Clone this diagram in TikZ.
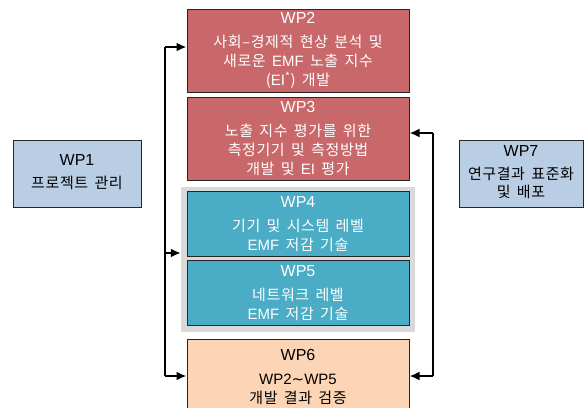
\documentclass[tikz,border=0pt]{standalone}
\usepackage{fontspec}
\setmainfont{Noto Sans CJK KR}[LetterSpace=4, WordSpace=1.6]
\newfontfamily\lat{Liberation Sans}
\newfontfamily\symfont{DejaVu Sans}
\newcommand{\wptitle}[1]{{\lat\fontsize{16}{18.8}\selectfont #1}}
\usetikzlibrary{arrows.meta}
\definecolor{wpred}{HTML}{C9686A}
\definecolor{wpteal}{HTML}{4BACC6}
\definecolor{wpblue}{HTML}{B9CDE5}
\definecolor{wppeach}{HTML}{FBD5B5}
\definecolor{wpgray}{HTML}{D9D9D9}
\tikzset{
  wpbox/.style={draw=black!85, line width=1pt, inner sep=0pt, align=center,
    font=\fontsize{15}{18.8}\selectfont},
  redbox/.style={wpbox, fill=wpred, text=white, minimum width=222pt, minimum height=83pt},
  tealbox/.style={wpbox, fill=wpteal, text=white, minimum width=222pt, minimum height=65pt},
  sidebox/.style={wpbox, fill=wpblue, text=black, minimum height=67pt},
  conn/.style={line width=2.4pt, black},
  arr/.style={conn, -{Latex[length=10pt,width=9pt]}},
}
\begin{document}
\begin{tikzpicture}[x=1pt,y=-1pt]
\useasboundingbox (0,0) rectangle (585,407);
\fill[white] (0,0) rectangle (585,407);
% gray group
\node[fill=wpgray, minimum width=234pt, minimum height=145pt, inner sep=0pt] (grp) at (298,259) {};
\node[redbox] (wp2) at (298,50.5) {\wptitle{WP2}\\[5pt]사회–경제적 현상 분석 및\\새로운 {\lat EMF} 노출 지수\\({\lat EI}\textsuperscript{*}) 개발};
\node[redbox] (wp3) at (298,138.5) {\wptitle{WP3}\\[5pt]노출 지수 평가를 위한\\측정기기 및 측정방법\\개발 및 {\lat EI} 평가};
\node[tealbox] (wp4) at (298,224.2) {\wptitle{WP4}\\[5pt]기기 및 시스템 레벨\\{\lat EMF} 저감 기술};
\node[tealbox] (wp5) at (298,293.2) {\wptitle{WP5}\\[5pt]네트워크 레벨\\{\lat EMF} 저감 기술};
\node[wpbox, fill=wppeach, text=black, minimum width=222pt, minimum height=76pt] (wp6) at (298,377) {\wptitle{WP6}\\[5pt]{\lat WP2}{\symfont ∼}{\lat WP5}\\개발 결과 검증};
\node[sidebox, minimum width=128pt] (wp1) at (77,173.5) {\raisebox{-1.5pt}{\begin{tabular}{@{}c@{}}\wptitle{WP1}\\[4pt]프로젝트 관리\end{tabular}}};
\node[sidebox, minimum width=124pt] (wp7) at (521,173.5) {\raisebox{-2pt}{\begin{tabular}{@{}c@{}}\wptitle{WP7}\\[4pt]연구결과 표준화\\[-0.5pt]및 배포\end{tabular}}};
% left connectors
\coordinate (ltop) at (165,47);
\coordinate (lmid) at (165,253);
\coordinate (lbot) at (165,376);
\draw[conn] (ltop) -- (lbot);
\draw[arr] (ltop) -- (ltop -| wp2.west);
\draw[arr] (lmid) -- (lmid -| grp.west);
\draw[arr] (lbot) -- (lbot -| wp6.west);
% right connectors
\coordinate (rtop) at (433,133);
\coordinate (rbot) at (433,376);
\draw[conn] (rtop) -- (rbot);
\draw[arr] (rtop) -- (rtop -| wp3.east);
\draw[arr] (rbot) -- (rbot -| wp6.east);
\end{tikzpicture}
\end{document}
